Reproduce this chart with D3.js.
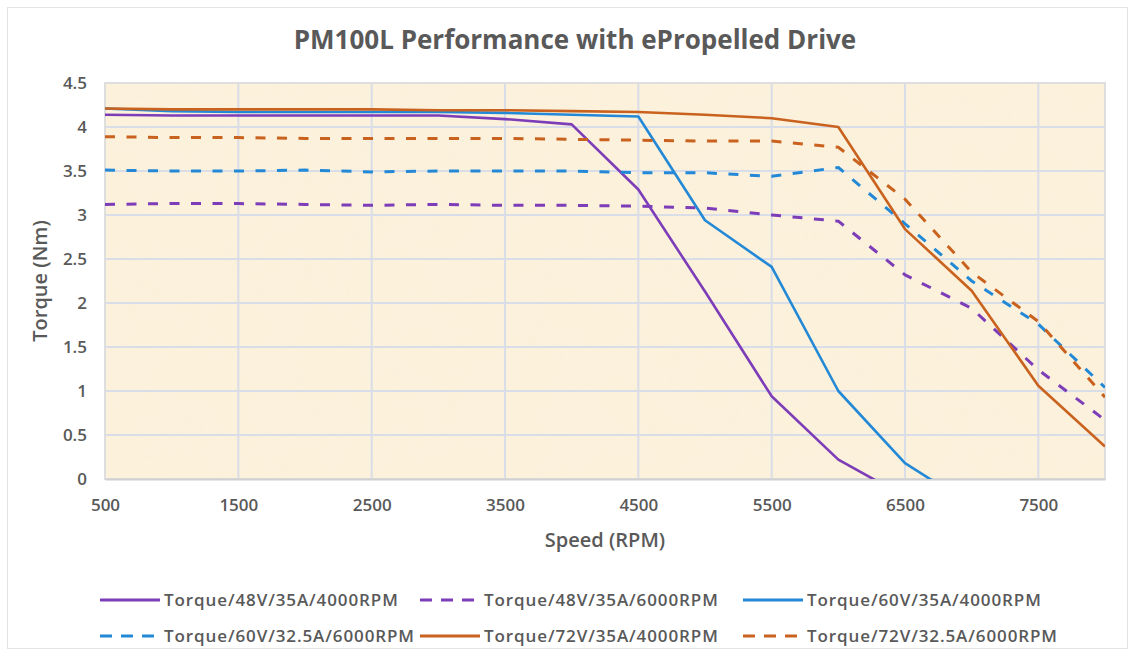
<!DOCTYPE html>
<html>
<head>
<meta charset="utf-8">
<script src="https://cdn.jsdelivr.net/npm/d3@7"></script>
<style>
    body { margin: 0; background: #fff; }
    svg text { font-family: "Open Sans", sans-serif; fill: #595959; }
</style>
</head>
<body>
<svg id="chart" width="1135" height="656"></svg>
<script>
// speeds (RPM) at which torque was sampled
const speeds = [500, 1000, 1500, 2000, 2500, 3000, 3500, 4000, 4500, 5000, 5500, 6000, 6500, 7000, 7500, 8000];

// torque values (Nm)
const torque48v35a4000 = [4.14, 4.13, 4.13, 4.13, 4.13, 4.13, 4.09, 4.03, 3.29, 2.13, 0.94, 0.22, -0.2];
const torque48v35a6000 = [3.12, 3.13, 3.13, 3.12, 3.11, 3.12, 3.11, 3.11, 3.10, 3.08, 3.00, 2.93, 2.32, 1.94, 1.24, 0.67];
const torque60v35a4000 = [4.21, 4.18, 4.17, 4.17, 4.17, 4.17, 4.16, 4.14, 4.12, 2.94, 2.41, 1.0, 0.18, -0.3];
const torque60v325a6000 = [3.51, 3.5, 3.5, 3.51, 3.49, 3.5, 3.5, 3.5, 3.48, 3.48, 3.44, 3.54, 2.9, 2.25, 1.76, 1.04];
const torque72v35a4000 = [4.21, 4.2, 4.2, 4.2, 4.2, 4.19, 4.19, 4.18, 4.17, 4.14, 4.1, 4.0, 2.84, 2.14, 1.06, 0.37];
const torque72v325a6000 = [3.89, 3.88, 3.88, 3.87, 3.87, 3.87, 3.87, 3.86, 3.85, 3.84, 3.84, 3.77, 3.18, 2.35, 1.79, 0.93];

const seriesNames = [
    "Torque/48V/35A/4000RPM",
    "Torque/48V/35A/6000RPM",
    "Torque/60V/35A/4000RPM",
    "Torque/60V/32.5A/6000RPM",
    "Torque/72V/35A/4000RPM",
    "Torque/72V/32.5A/6000RPM",
];
const seriesValues = [torque48v35a4000, torque48v35a6000, torque60v35a4000, torque60v325a6000, torque72v35a4000, torque72v325a6000];
const seriesColors = ["#7d3db8", "#7d3db8", "#2389d6", "#2389d6", "#c9621e", "#c9621e"];
const seriesDashed = [false, true, false, true, false, true];

const xTicks = [500, 1500, 2500, 3500, 4500, 5500, 6500, 7500];
const yTicks = [0, 0.5, 1, 1.5, 2, 2.5, 3, 3.5, 4, 4.5];

const margin = { left: 105, right: 1105, top: 83, bottom: 479 };

const svg = d3.select("#chart");

// outer chart frame
svg.append("rect")
    .attr("x", 7.5).attr("y", 7.5)
    .attr("width", 1120).attr("height", 641)
    .attr("fill", "#fff")
    .attr("stroke", "#e3e3e3");

const x = d3.scaleLinear().domain([500, 8000]).range([margin.left, margin.right]);
const y = d3.scaleLinear().domain([0, 4.5]).range([margin.bottom, margin.top]);

// parchment-ish texture for plot area
const defs = svg.append("defs");
const filt = defs.append("filter").attr("id", "paper")
    .attr("x", 0).attr("y", 0).attr("width", "100%").attr("height", "100%");
filt.append("feTurbulence")
    .attr("type", "fractalNoise")
    .attr("baseFrequency", 0.02)
    .attr("numOctaves", 3)
    .attr("seed", 7)
    .attr("result", "noise");
filt.append("feColorMatrix")
    .attr("in", "noise")
    .attr("type", "matrix")
    .attr("values", "0 0 0 0 0.95  0 0 0 0 0.88  0 0 0 0 0.74  1.2 0 0 0 -0.45")
    .attr("result", "tint");
filt.append("feComposite").attr("in", "tint").attr("in2", "SourceGraphic").attr("operator", "in");

defs.append("clipPath").attr("id", "plot-clip")
    .append("rect")
    .attr("x", margin.left).attr("y", margin.top)
    .attr("width", margin.right - margin.left)
    .attr("height", margin.bottom - margin.top);

svg.append("rect")
    .attr("x", margin.left).attr("y", margin.top)
    .attr("width", margin.right - margin.left)
    .attr("height", margin.bottom - margin.top)
    .attr("fill", "#fcf1db");
svg.append("rect")
    .attr("x", margin.left).attr("y", margin.top)
    .attr("width", margin.right - margin.left)
    .attr("height", margin.bottom - margin.top)
    .attr("fill", "#fcf1db")
    .attr("opacity", 0.7)
    .attr("filter", "url(#paper)");

// gridlines
const grid = svg.append("g").attr("class", "grid");
grid.selectAll(".hgrid")
    .data(yTicks.filter(d => d > 0 && d < 4.5))
    .join("line")
    .attr("x1", margin.left).attr("x2", margin.right)
    .attr("y1", d => y(d)).attr("y2", d => y(d))
    .attr("stroke", "#d8dde8")
    .attr("stroke-width", 2);
grid.selectAll(".vgrid")
    .data(xTicks.filter(d => d > 500))
    .join("line")
    .attr("y1", margin.top).attr("y2", margin.bottom)
    .attr("x1", d => x(d)).attr("x2", d => x(d))
    .attr("stroke", "#d8dde8")
    .attr("stroke-width", 2);

// plot border and x baseline
svg.append("rect")
    .attr("x", margin.left).attr("y", margin.top)
    .attr("width", margin.right - margin.left)
    .attr("height", margin.bottom - margin.top)
    .attr("fill", "none")
    .attr("stroke", "#dedede")
    .attr("stroke-width", 2);

// axes
const xAxis = d3.axisBottom(x).tickValues(xTicks).tickSize(0).tickPadding(20).tickFormat(d3.format("d"));
svg.append("g")
    .attr("transform", `translate(0,${margin.bottom})`)
    .call(xAxis)
    .call(g => g.select(".domain").attr("stroke", "#d0d0d0").attr("stroke-width", 2))
    .selectAll("text")
    .attr("font-size", 17)
    .attr("font-weight", 600)
    .attr("fill", "#595959");

const yAxis = d3.axisLeft(y).tickValues(yTicks).tickSize(0).tickPadding(18).tickFormat(d3.format(""));
svg.append("g")
    .attr("transform", `translate(${margin.left},0)`)
    .call(yAxis)
    .call(g => g.select(".domain").remove())
    .selectAll("text")
    .attr("font-size", 17)
    .attr("font-weight", 600)
    .attr("fill", "#595959");

// series lines
const line = d3.line()
    .defined(d => d[1] != null)
    .x(d => x(d[0]))
    .y(d => y(d[1]));

svg.append("g")
    .attr("clip-path", "url(#plot-clip)")
    .selectAll("path")
    .data(seriesValues.map((vals, i) => ({ i, pts: vals.map((v, j) => [speeds[j], v]) })))
    .join("path")
    .attr("d", d => line(d.pts))
    .attr("fill", "none")
    .attr("stroke", d => seriesColors[d.i])
    .attr("stroke-width", d => seriesDashed[d.i] ? 3 : 2.6)
    .attr("stroke-dasharray", d => seriesDashed[d.i] ? "10,11.5" : null)
    .attr("stroke-linejoin", "round");

// titles
svg.append("text")
    .attr("x", 575).attr("y", 49)
    .attr("text-anchor", "middle")
    .attr("font-size", 26)
    .attr("font-weight", "bold")
    .text("PM100L Performance with ePropelled Drive");

svg.append("text")
    .attr("x", (margin.left + margin.right) / 2).attr("y", 547)
    .attr("text-anchor", "middle")
    .attr("font-size", 20)
    .attr("font-weight", 600)
    .text("Speed (RPM)");

svg.append("text")
    .attr("transform", `translate(47,${(margin.top + margin.bottom) / 2}) rotate(-90)`)
    .attr("text-anchor", "middle")
    .attr("font-size", 20)
    .attr("font-weight", 600)
    .text("Torque (Nm)");

// legend, 3 per row
const legend = svg.append("g");
const legendX = [100, 420, 743];
const legendY = [600, 636];
seriesNames.forEach((name, i) => {
    const lx = legendX[i % 3];
    const ly = legendY[Math.floor(i / 3)];
    const g = legend.append("g").attr("transform", `translate(${lx},${ly})`);
    g.append("line")
        .attr("x1", 0).attr("x2", 60)
        .attr("y1", 0).attr("y2", 0)
        .attr("stroke", seriesColors[i])
        .attr("stroke-width", 3)
        .attr("stroke-dasharray", seriesDashed[i] ? "12,9" : null);
    g.append("text")
        .attr("x", 64).attr("y", 0)
        .attr("dy", "0.35em")
        .attr("font-size", 17)
        .attr("font-weight", 600)
        .attr("letter-spacing", 0.9)
        .text(name);
});
</script>
</body>
</html>
